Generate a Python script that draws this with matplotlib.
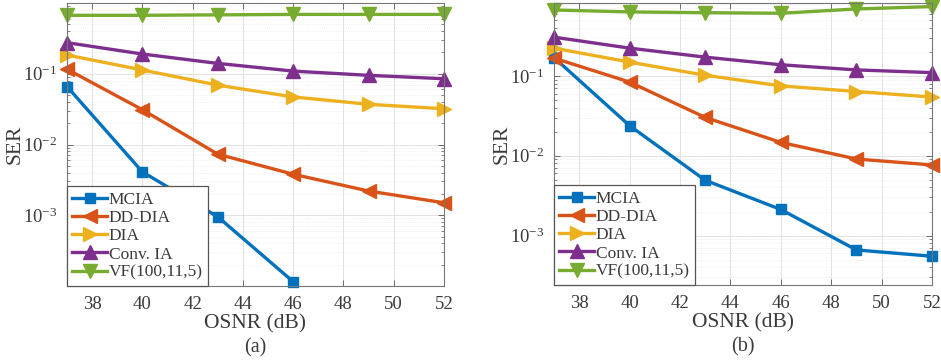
import matplotlib
matplotlib.use("Agg")
import matplotlib.pyplot as plt
from matplotlib.ticker import LogLocator, NullFormatter, FixedLocator

plt.rcParams['font.family'] = ['Liberation Serif', 'DejaVu Serif']
plt.rcParams['mathtext.fontset'] = 'custom'
plt.rcParams['mathtext.rm'] = 'Liberation Serif'

# ---- data ----
osnr = [37, 40, 43, 46, 49, 52]
osnr_mcia_a = [37, 40, 43, 46]
labels = ["MCIA", "DD-DIA", "DIA", "Conv. IA", "VF(100,11,5)"]

# (a)
mcia_a = [0.066, 0.0041, 0.00095, 1.15e-4]
dddia_a = [0.116, 0.031, 0.0073, 0.0038, 0.0022, 0.0015]
dia_a = [0.184, 0.113, 0.069, 0.047, 0.037, 0.032]
convia_a = [0.275, 0.19, 0.14, 0.109, 0.095, 0.085]
vf_a = [0.67, 0.67, 0.68, 0.69, 0.69, 0.69]

# (b)
mcia_b = [0.17, 0.0238, 0.00493, 0.00212, 0.00066, 0.00055]
dddia_b = [0.167, 0.0838, 0.0302, 0.0147, 0.0091, 0.00767]
dia_b = [0.223, 0.149, 0.102, 0.075, 0.0638, 0.0543]
convia_b = [0.306, 0.223, 0.172, 0.138, 0.119, 0.110]
vf_b = [0.67, 0.634, 0.62, 0.61, 0.69, 0.74]

xticks = [38, 40, 42, 44, 46, 48, 50, 52]
yticks = [1e-3, 1e-2, 1e-1]

colors = ["#0072BD", "#D95319", "#EDB120", "#7E2F8E", "#77AC30"]
markers = ["s", "<", ">", "^", "v"]
msizes = [6.5, 10, 10, 10, 10]
txtc = "#3a3a3a"

fig = plt.figure(figsize=(9.41, 3.6), dpi=100)
axa = fig.add_axes([67/941, 74/360, 377/941, 283/360])
axb = fig.add_axes([554/941, 75/360, 378/941, 282/360])

def draw(ax, series, ylim, tag):
    for (x, y), c, m, ms, lab in zip(series, colors, markers, msizes, labels):
        ax.plot(x, y, color=c, marker=m, markersize=ms, markerfacecolor=c,
                markeredgecolor=c, linewidth=2.4, label=lab, clip_on=False)
    ax.set_yscale('log')
    ax.set_xlim(37, 52)
    ax.set_ylim(*ylim)
    ax.set_xticks(xticks)
    ax.yaxis.set_major_locator(FixedLocator(yticks))
    ax.yaxis.set_minor_locator(LogLocator(base=10, subs=range(2, 10), numticks=20))
    ax.yaxis.set_minor_formatter(NullFormatter())
    ax.tick_params(which='both', direction='in', top=True, right=True,
                   colors="#555555", labelcolor=txtc, labelsize=13.5)
    ax.tick_params(which='major', length=4, width=0.6, pad=7)
    ax.tick_params(which='minor', length=2.2, width=0.5)
    ax.grid(True, which='major', color='#dddddd', linewidth=0.6)
    ax.grid(True, which='minor', axis='y', color='#e4e4e4', linewidth=0.5, linestyle=':')
    ax.set_axisbelow(True)
    for s in ax.spines.values():
        s.set_color('#777777')
        s.set_linewidth(0.8)
    ax.set_xlabel("OSNR (dB)", fontsize=15.5, color=txtc, labelpad=1)
    ax.set_ylabel("SER", fontsize=15.5, color=txtc)
    ax.yaxis.set_label_coords(-0.112, 0.5)
    ax.text(0.5, -0.185, tag, transform=ax.transAxes, ha='center', va='top',
            fontsize=14.5, color=txtc)
    leg = ax.legend(loc='lower left', bbox_to_anchor=(0, 0), borderaxespad=0,
                    fontsize=12.5, numpoints=1, handlelength=2.0, handletextpad=0.1,
                    labelspacing=0.12, borderpad=0.3, fancybox=False,
                    framealpha=1, edgecolor='#555555')
    leg.get_frame().set_linewidth(0.9)
    for t in leg.get_texts():
        t.set_color(txtc)

draw(axa, [(osnr_mcia_a, mcia_a), (osnr, dddia_a), (osnr, dia_a),
           (osnr, convia_a), (osnr, vf_a)], (1e-4, 1.0), "(a)")
draw(axb, [(osnr, mcia_b), (osnr, dddia_b), (osnr, dia_b),
           (osnr, convia_b), (osnr, vf_b)], (2.4e-4, 0.82), "(b)")

fig.savefig("out.png", dpi=100, facecolor='white')
